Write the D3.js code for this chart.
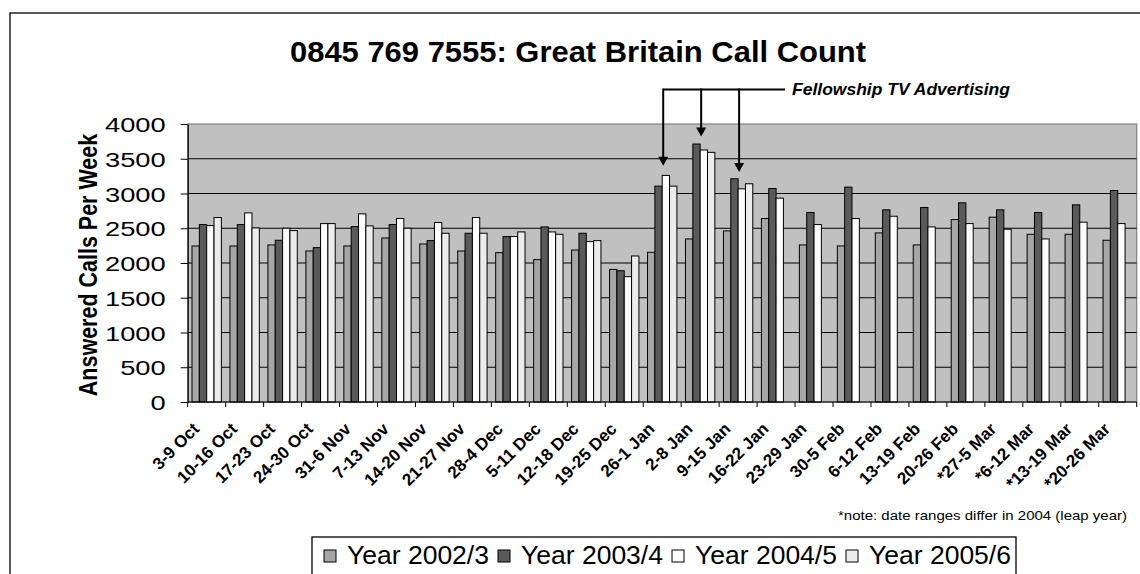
<!DOCTYPE html>
<html>
<head>
<meta charset="utf-8">
<script src="https://cdn.jsdelivr.net/npm/d3@7"></script>
<style>
  html, body { margin: 0; padding: 0; background: #fff; }
  svg { display: block; font-family: "Liberation Sans", Arial, sans-serif; }
</style>
</head>
<body>
<svg id="chart" width="1140" height="574"></svg>
<script>
// Weekly answered calls, one value per week and season
const categories = ["3-9 Oct","10-16 Oct","17-23 Oct","24-30 Oct","31-6 Nov","7-13 Nov","14-20 Nov",
  "21-27 Nov","28-4 Dec","5-11 Dec","12-18 Dec","19-25 Dec","26-1 Jan","2-8 Jan","9-15 Jan",
  "16-22 Jan","23-29 Jan","30-5 Feb","6-12 Feb","13-19 Feb","20-26 Feb","*27-5 Mar","*6-12 Mar",
  "*13-19 Mar","*20-26 Mar"];
const seriesNames = ["Year 2002/3","Year 2003/4","Year 2004/5","Year 2005/6"];
const calls2002 = [2245,2245,2260,2173,2245,2360,2274,2173,2149,2048,2187,1908,2154,2346,2462,
  2640,2260,2245,2433,2260,2625,2659,2413,2413,2327];
const calls2003 = [2553,2553,2327,2221,2524,2553,2322,2428,2380,2519,2428,1889,3106,3712,3212,
  3072,2726,3092,2765,2798,2866,2765,2726,2837,3043];
const calls2004 = [2538,2721,2500,2567,2707,2640,2582,2654,2380,2447,2308,1803,3260,3626,3067,
  2933,2553,2640,2673,2519,2567,2486,2346,2587,2567];
const calls2005 = [2654,2505,2466,2567,2534,2500,2428,2428,2447,2413,2322,2101,3106,3592,3140,
  null,null,null,null,null,null,null,null,null,null];
const yTicks = [0,500,1000,1500,2000,2500,3000,3500,4000];
const seriesColors = ["#a6a6a6","#5a5a5a","#fcfcfc","#ececec"];
// weeks pointed at by the advertising callout, and where each arrow stops
const adWeeks = ["26-1 Jan","2-8 Jan","9-15 Jan"];
const adArrowTips = [3400,3820,3310];
const adLabel = "Fellowship TV Advertising";

const allSeries = [calls2002, calls2003, calls2004, calls2005];

const svg = d3.select("#chart");
const plot = { left: 187.7, right: 1136.7, top: 124, bottom: 402 };

// outer chart frame (runs past the right and bottom edges)
svg.append("rect").attr("x", 10).attr("y", 13).attr("width", 1200).attr("height", 700)
  .attr("fill", "none").attr("stroke", "#000").attr("stroke-width", 1.3);

const x0 = d3.scaleBand().domain(categories).range([plot.left, plot.right])
  .paddingInner(0.227).paddingOuter(0.1135);
const x1 = d3.scaleBand().domain(seriesNames).range([0, x0.bandwidth()]);
const y = d3.scaleLinear().domain([0, 4000]).range([plot.bottom, plot.top]);

// plot background
svg.append("rect").attr("x", plot.left).attr("y", plot.top)
  .attr("width", plot.right - plot.left).attr("height", plot.bottom - plot.top)
  .attr("fill", "#c0c0c0").attr("stroke", "#808080").attr("stroke-width", 1.2);

// horizontal gridlines
svg.append("g").selectAll("line").data(yTicks.filter(t => t > 0 && t < 4000)).join("line")
  .attr("x1", plot.left).attr("x2", plot.right)
  .attr("y1", d => y(d)).attr("y2", d => y(d))
  .attr("stroke", "#000").attr("stroke-width", 1);

// bars
const groups = svg.append("g").selectAll("g").data(categories).join("g")
  .attr("transform", d => `translate(${x0(d)},0)`);
groups.selectAll("rect")
  .data((c, i) => seriesNames.map((s, k) => ({ s, k, v: allSeries[k][i] })).filter(d => d.v != null))
  .join("rect")
  .attr("x", d => x1(d.s)).attr("width", x1.bandwidth())
  .attr("y", d => y(d.v)).attr("height", d => y(0) - y(d.v))
  .attr("fill", d => seriesColors[d.k]).attr("stroke", "#000").attr("stroke-width", 1);

// y axis
const yAxis = svg.append("g").attr("transform", `translate(${plot.left},0)`)
  .call(d3.axisLeft(y).tickValues(yTicks).tickSize(7).tickSizeOuter(0).tickFormat(d3.format("d")));
yAxis.select(".domain").attr("stroke", "#000").attr("stroke-width", 1.2);
yAxis.selectAll(".tick line").attr("stroke", "#000");
yAxis.selectAll(".tick text")
  .attr("x", 0).attr("dy", "0.36em")
  .attr("transform", "translate(-22,0) scale(1.3,1)")
  .attr("font-size", 21).attr("fill", "#000")
  .attr("font-family", "Liberation Sans, Arial, sans-serif");

// x axis: ticks sit between weeks
const xAxisG = svg.append("g");
xAxisG.append("line").attr("x1", plot.left).attr("x2", plot.right)
  .attr("y1", plot.bottom).attr("y2", plot.bottom).attr("stroke", "#000").attr("stroke-width", 1.2);
const boundaries = categories.map(c => x0(c) - x0.step() * x0.paddingInner() / 2)
  .concat([plot.right]);
xAxisG.selectAll("line.tk").data(boundaries).join("line").attr("class", "tk")
  .attr("x1", d => d).attr("x2", d => d)
  .attr("y1", plot.bottom).attr("y2", plot.bottom + 5).attr("stroke", "#000");
xAxisG.selectAll("text").data(categories).join("text")
  .attr("transform", d => `translate(${x0(d) + x0.bandwidth() / 2 - 6.5},${plot.bottom + 28}) rotate(-45)`)
  .attr("text-anchor", "end").attr("font-size", 17).attr("font-weight", "bold")
  .text(d => d);

// y axis title
svg.append("text")
  .attr("transform", `translate(97,${(plot.top + plot.bottom) / 2 + 2}) scale(1.2,1) rotate(-90)`)
  .attr("text-anchor", "middle").attr("font-size", 21.5).attr("font-weight", "bold")
  .text("Answered Calls Per Week");

// title
svg.append("text").attr("x", 578).attr("y", 62).attr("text-anchor", "middle")
  .attr("font-size", 30).attr("font-weight", "bold")
  .attr("textLength", 576).attr("lengthAdjust", "spacingAndGlyphs")
  .text("0845 769 7555: Great Britain Call Count");

// advertising callout
const calloutY = 89.5;
const arrowXs = adWeeks.map(w => x0(w) + x0.bandwidth() / 2 + 1);
const callout = svg.append("g");
callout.append("line").attr("x1", arrowXs[0]).attr("x2", 785)
  .attr("y1", calloutY).attr("y2", calloutY).attr("stroke", "#000").attr("stroke-width", 2);
arrowXs.forEach((ax, i) => {
  const tip = y(adArrowTips[i]);
  callout.append("line").attr("x1", ax).attr("x2", ax).attr("y1", calloutY - 1).attr("y2", tip - 7)
    .attr("stroke", "#000").attr("stroke-width", 2);
  callout.append("path").attr("d", `M${ax - 5},${tip - 9}L${ax + 5},${tip - 9}L${ax},${tip}Z`)
    .attr("fill", "#000");
});
callout.append("text").attr("x", 792).attr("y", 95)
  .attr("font-size", 16.5).attr("font-weight", "bold").attr("font-style", "italic")
  .attr("textLength", 218).attr("lengthAdjust", "spacingAndGlyphs")
  .text(adLabel);

// footnote
svg.append("text").attr("x", 1127).attr("y", 520).attr("text-anchor", "end")
  .attr("font-size", 13.5).attr("textLength", 289).attr("lengthAdjust", "spacingAndGlyphs")
  .text("*note: date ranges differ in 2004 (leap year)");

// legend
const legendBox = { left: 312, right: 1016, top: 537 };
svg.append("rect").attr("x", legendBox.left).attr("y", legendBox.top)
  .attr("width", legendBox.right - legendBox.left).attr("height", 80)
  .attr("fill", "#fff").attr("stroke", "#000").attr("stroke-width", 1.3);
const lx = d3.scaleBand().domain(seriesNames).range([legendBox.left + 12, legendBox.right + 4]);
const items = svg.append("g").selectAll("g").data(seriesNames).join("g")
  .attr("transform", d => `translate(${lx(d)},0)`);
items.append("rect").attr("x", 0).attr("y", 550).attr("width", 12).attr("height", 12)
  .attr("fill", (d, i) => seriesColors[i]).attr("stroke", "#000").attr("stroke-width", 1);
items.append("text").attr("x", 23).attr("y", 564).attr("font-size", 26.5).text(d => d);
</script>
</body>
</html>
